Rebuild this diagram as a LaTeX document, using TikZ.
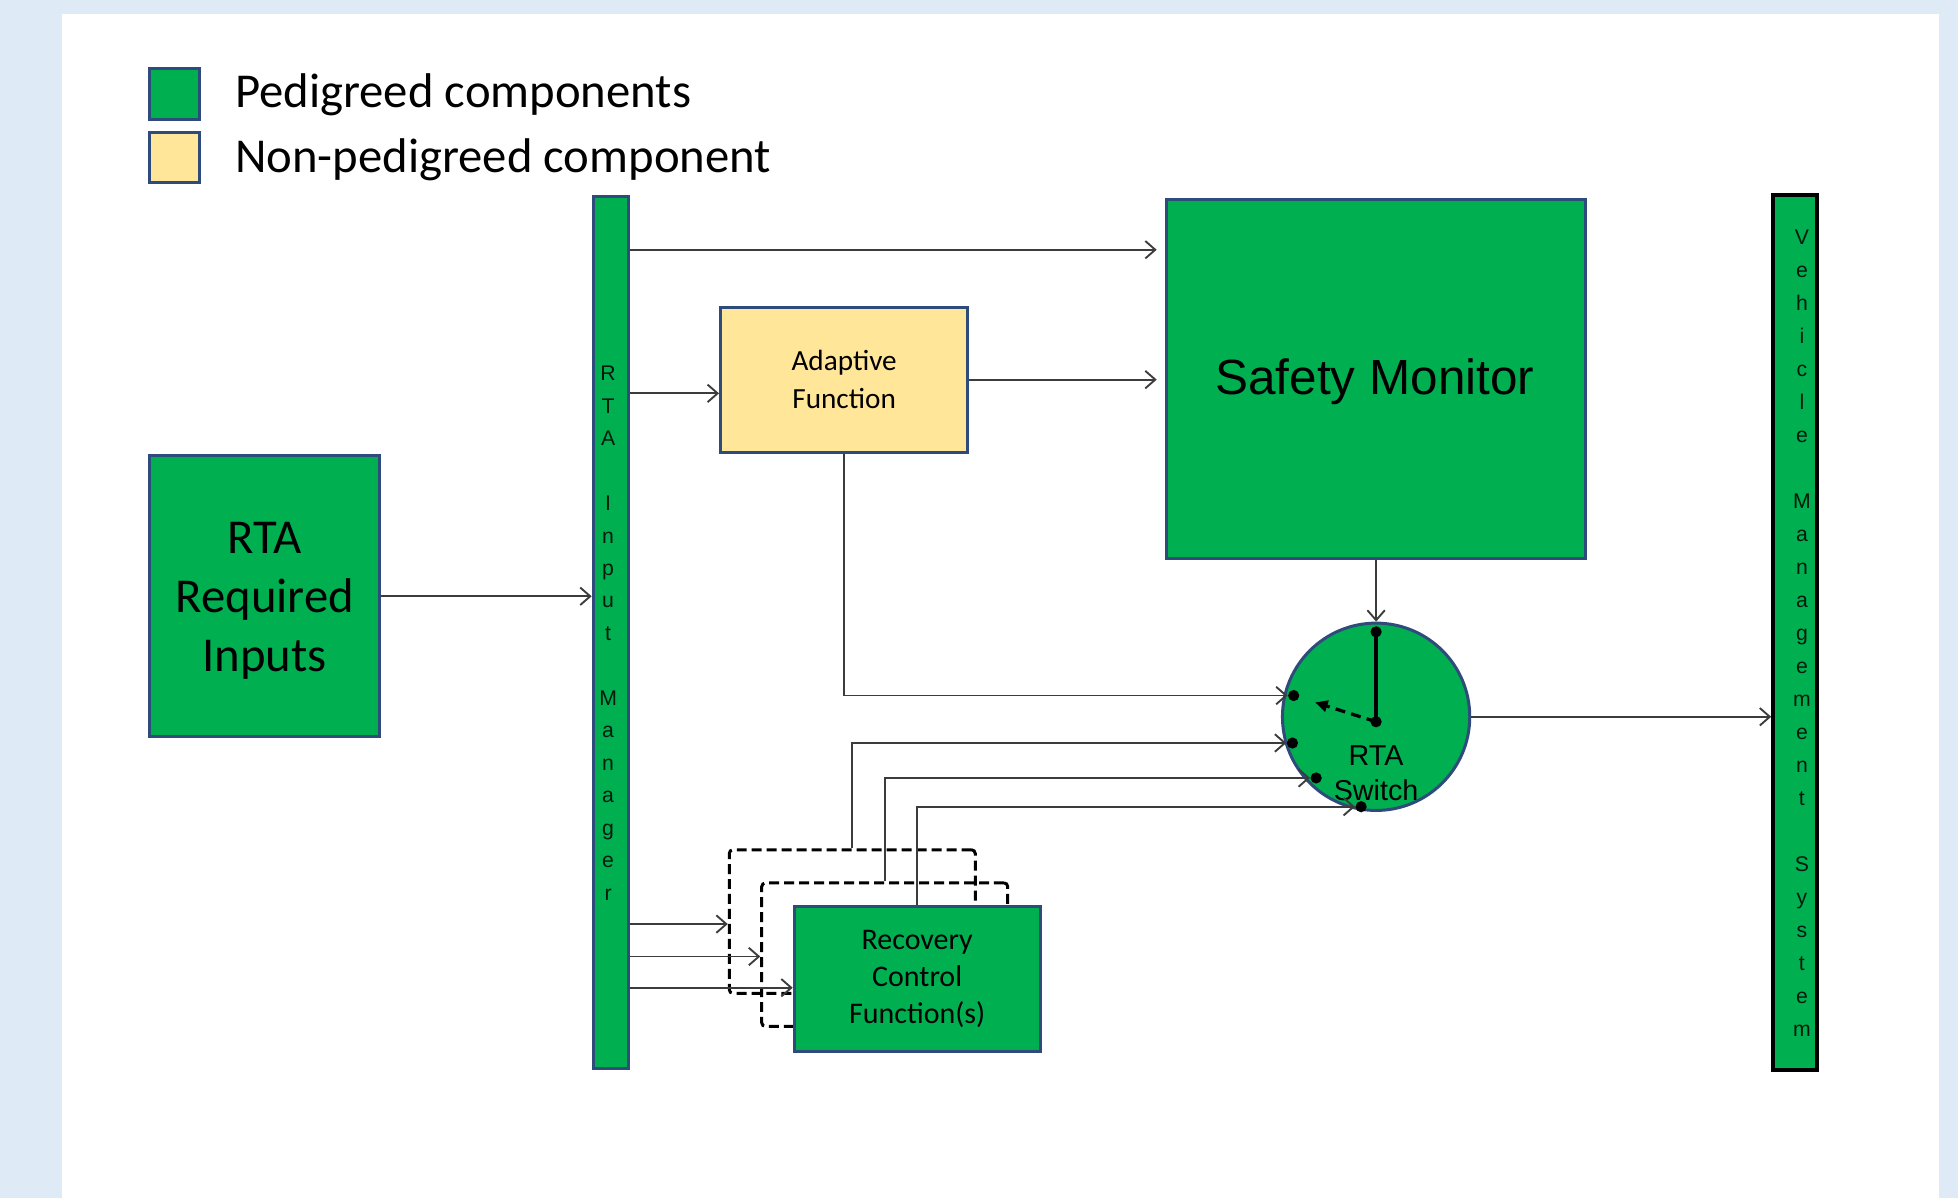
\documentclass[tikz,border=0pt]{standalone}
\usepackage{fontspec}
\setmainfont{Carlito}
\newfontfamily\arialfont{Liberation Sans}
\usetikzlibrary{arrows.meta}
\usetikzlibrary{positioning}

\definecolor{pedgreen}{HTML}{00B050}
\definecolor{nonpedyellow}{HTML}{FFE699}
\definecolor{boxblue}{HTML}{2F4B7C}
\definecolor{bgblue}{HTML}{DEEAF6}
\definecolor{wiregray}{HTML}{3C3C3C}

\tikzset{
  pedbox/.style={draw=boxblue,line width=1.2pt,fill=pedgreen,inner sep=0pt},
  nonpedbox/.style={draw=boxblue,line width=1.2pt,fill=nonpedyellow,inner sep=0pt},
  wire/.style={draw=wiregray,line width=0.75pt,-{Straight Barb[length=4pt,width=7pt]}},
  ghostbox/.style={draw=black,line width=1.2pt,dash pattern=on 4pt off 2pt,rounded corners=1.5pt,minimum width=98.5pt,minimum height=57.5pt},
  swdot/.style={circle,fill=black,inner sep=0pt,minimum size=4.5pt},
  bartext/.style={align=center,inner sep=0pt,text=black!85!pedgreen,font=\arialfont\fontsize{8.5}{13}\selectfont},
}

\begin{document}
\begin{tikzpicture}[x=0.5pt,y=-0.5pt]
\useasboundingbox (0,0) rectangle (1568,959);
\fill[bgblue] (0,0) rectangle (1568,959);
\fill[white] (50,11) rectangle (1553,959);

% legend
\node[pedbox,minimum width=20pt,minimum height=20.5pt] (legped) at (140,75.5) {};
\node[nonpedbox,minimum width=20pt,minimum height=20pt] (legnonped) at (140,126) {};
\node[font=\fontsize{19.5}{23}\selectfont,anchor=base west,inner sep=0pt] (legpedtext) at (188,86) {Pedigreed components};
\node[font=\fontsize{19.5}{23}\selectfont,anchor=base west,inner sep=0pt] (legnonpedtext) at (188,138) {Non-pedigreed component};

% blocks
\node[pedbox,minimum width=92pt,minimum height=112.5pt] (inputs) at (212,477.5) {};
\node[align=center,inner sep=0pt,font=\fontsize{19.5}{23.5}\selectfont] (inputstext) at (212,481) {RTA\\Required\\Inputs};
\node[pedbox,minimum width=14pt,minimum height=349.5pt] (mgr) at (489,506.5) {};
\node[bartext] (mgrtext) at (487,507) {R\\T\\A\\~\\I\\n\\p\\u\\t\\~\\M\\a\\n\\a\\g\\e\\r};
\node[nonpedbox,minimum width=99pt,minimum height=58pt,align=center,font=\fontsize{11.7}{15}\selectfont] (adaptive) at (676,304) {Adaptive\\Function};
\node[pedbox,minimum width=167.5pt,minimum height=143.5pt] (safety) at (1102,303.5) {};
\node[inner sep=0pt,font=\arialfont\fontsize{19.8}{23}\selectfont] (safetytext) at (1101,306) {Safety Monitor};
\node[pedbox,draw=black,line width=1.6pt,minimum width=17.5pt,minimum height=350.5pt] (vms) at (1437.5,506.5) {};
\node[bartext,font=\arialfont\fontsize{8.5}{13.2}\selectfont] (vmstext) at (1443,507) {V\\e\\h\\i\\c\\l\\e\\~\\M\\a\\n\\a\\g\\e\\m\\e\\n\\t\\~\\S\\y\\s\\t\\e\\m};

% recovery functions (stacked)
\node[ghostbox] (rec3) at (682.5,738) {};
\node[ghostbox] (rec2) at (708.5,764.5) {};
\node[pedbox,minimum width=98.5pt,minimum height=58pt,align=center,font=\fontsize{12}{14.75}\selectfont] (rec1) at (734.5,784) {Recovery\\Control\\Function(s)};

% switch
\node[pedbox,circle,minimum size=75pt] (switch) at (1102,574) {};
\node[swdot] (s0) at (1102,506) {};
\node[swdot] (sc) at (1102,578) {};
\node[swdot] (s1) at (1036,557) {};
\node[swdot] (s2) at (1035,595) {};
\node[swdot] (s3) at (1054,623) {};
\node[swdot] (s4) at (1090,646) {};
\draw[line width=1.5pt] (s0.center) -- (sc.center);
\draw[line width=1.3pt,dash pattern=on 4pt off 2.5pt,shorten >=9pt,-{Triangle[length=5pt,width=4.5pt]}] (sc.center) -- (s1.center);
\node[align=center,inner sep=0pt,font=\arialfont\fontsize{11.5}{14}\selectfont] (switchtext) at (1102,619) {RTA\\Switch};

% connectors
\coordinate (tap1) at (0,200);
\coordinate (tap2) at (0,315);
\coordinate (tap3) at (0,740);
\coordinate (tap4) at (0,766);
\coordinate (tap5) at (0,791);
\draw[wire] (inputs.east) -- (mgr.west |- inputs.east);
\draw[wire,shorten >=3.5pt] (mgr.east |- tap1) -- (safety.west |- tap1);
\draw[wire] (mgr.east |- tap2) -- (adaptive.west |- tap2);
\draw[wire,shorten >=3.5pt] (adaptive.east) -- (safety.west |- adaptive.east);
\draw[wire] (safety.south) -- (switch.north);
\draw[wire] (adaptive.south) |- (s1.west);
\draw[wire] (rec3.north) |- (s2.west);
\draw[wire] (rec2.north) |- (s3.west);
\draw[wire] (rec1.north) |- (s4.west);
\draw[wire] (mgr.east |- tap3) -- (rec3.west |- tap3);
\draw[wire] (mgr.east |- tap4) -- (rec2.west |- tap4);
\draw[wire] (mgr.east |- tap5) -- (rec1.west |- tap5);
\draw[wire] (switch.east) -- (vms.west |- switch.east);

\end{tikzpicture}
\end{document}
